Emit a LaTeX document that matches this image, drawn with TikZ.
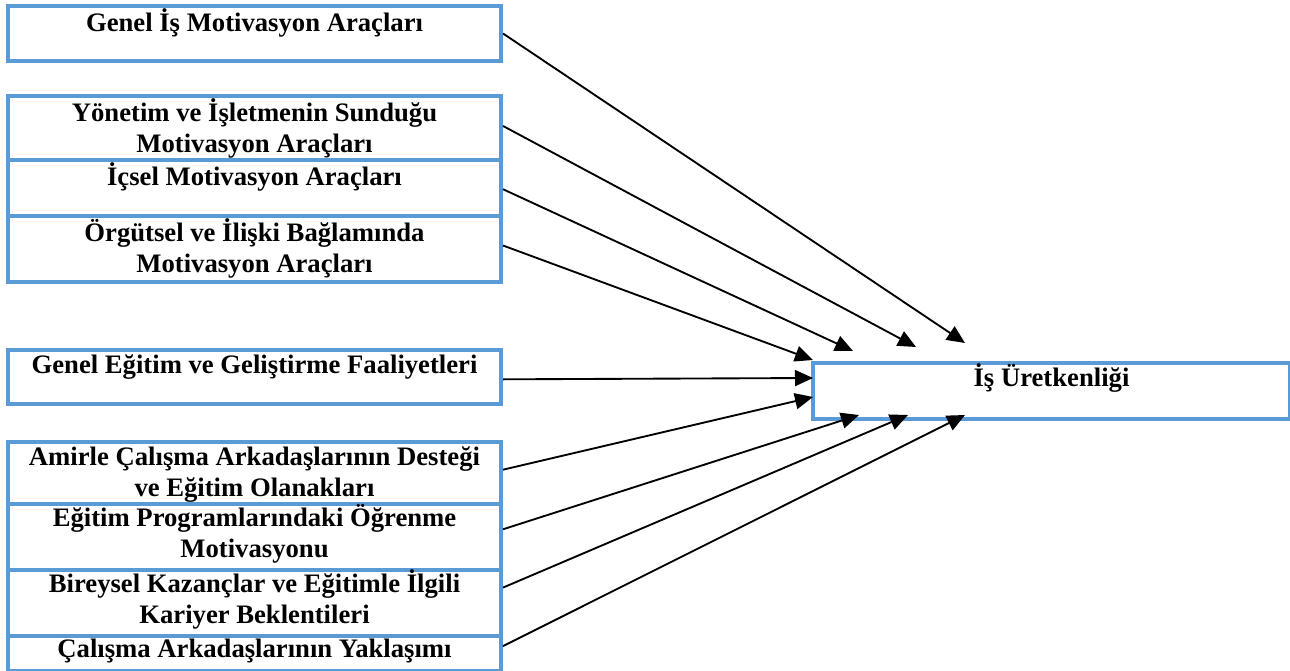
\documentclass[tikz,border=0pt]{standalone}
\usepackage{fontspec}
\setmainfont{Liberation Serif}
\usetikzlibrary{arrows.meta,calc}
\definecolor{boxblue}{HTML}{5B9BD5}
\newcommand{\tstrut}{\rule{0pt}{18pt}}
\begin{document}
\begin{tikzpicture}[x=0.75pt,y=-0.75pt,
  box/.style={draw=boxblue,line width=3pt,rectangle,inner sep=0pt,anchor=north west,minimum width=369.75pt},
  tbox/.style={draw=boxblue,line width=3pt,rectangle,inner sep=0pt,anchor=north west,minimum width=357.75pt,minimum height=42pt},
  lbl/.style={anchor=north,inner sep=0pt,align=center,font=\bfseries\fontsize{20}{23.25}\selectfont},
  arr/.style={line width=1.4pt,-{Triangle[length=13.5pt,width=12pt]}}]
\useasboundingbox (0,0) rectangle (1290,671);
% left boxes
\node[box,minimum height=41.25pt] (b1) at (6,4) {};
\node[box,minimum height=48pt] (b2) at (6,94) {};
\node[box,minimum height=42pt] (b3) at (6,158) {};
\node[box,minimum height=49.5pt] (b4) at (6,214) {};
\node[box,minimum height=40.5pt] (b5) at (6,348) {};
\node[box,minimum height=46.5pt] (b6) at (6,440) {};
\node[box,minimum height=49.5pt] (b7) at (6,502) {};
\node[box,minimum height=49.5pt] (b8) at (6,568) {};
\node[box,minimum height=26.25pt] (b9) at (6,634) {};
\node[tbox] (tgt) at (811,361) {};
% labels
\node[lbl] (l1) at ($(b1.north)+(0,3)$) {\tstrut Genel İş Motivasyon Araçları};
\node[lbl] (l2) at ($(b2.north)+(0,3)$) {\tstrut Yönetim ve İşletmenin Sunduğu\\Motivasyon Araçları};
\node[lbl] (l3) at ($(b3.north)+(0,3)$) {\tstrut İçsel Motivasyon Araçları};
\node[lbl] (l4) at ($(b4.north)+(0,3)$) {\tstrut Örgütsel ve İlişki Bağlamında\\Motivasyon Araçları};
\node[lbl] (l5) at ($(b5.north)+(0,1)$) {\tstrut Genel Eğitim ve Geliştirme Faaliyetleri};
\node[lbl] (l6) at ($(b6.north)+(0,1)$) {\tstrut Amirle Çalışma Arkadaşlarının Desteği\\ve Eğitim Olanakları};
\node[lbl] (l7) at ($(b7.north)+(0,0)$) {\tstrut Eğitim Programlarındaki Öğrenme\\Motivasyonu};
\node[lbl] (l8) at ($(b8.north)+(0,0)$) {\tstrut Bireysel Kazançlar ve Eğitimle İlgili\\Kariyer Beklentileri};
\node[lbl] (l9) at ($(b9.north)+(0,-1)$) {\tstrut Çalışma Arkadaşlarının Yaklaşımı};
\node[lbl] (lt) at ($(tgt.north)+(0,1)$) {\tstrut İş Üretkenliği};
% arrow end points
\coordinate (t1) at (965,343);
\coordinate (t2) at (916,347);
\coordinate (t3) at (853,351);
\coordinate (t4) at (813,360);
\coordinate (t5) at (813,378);
\coordinate (t6) at (813,397);
\coordinate (t7) at (859,415);
\coordinate (t8) at (908,415);
\coordinate (t9) at (965,415);
% connectors
\draw[arr] ($(b1.north east)!0.5!(b1.south east)$) -- (t1);
\draw[arr] ($(b2.north east)!0.47!(b2.south east)$) -- (t2);
\draw[arr] ($(b3.north east)!0.52!(b3.south east)$) -- (t3);
\draw[arr] ($(b4.north east)!0.45!(b4.south east)$) -- (t4);
\draw[arr] ($(b5.north east)!0.54!(b5.south east)$) -- (t5);
\draw[arr] ($(b6.north east)!0.45!(b6.south east)$) -- (t6);
\draw[arr] ($(b7.north east)!0.39!(b7.south east)$) -- (t7);
\draw[arr] ($(b8.north east)!0.28!(b8.south east)$) -- (t8);
\draw[arr] ($(b9.north east)!0.31!(b9.south east)$) -- (t9);
\end{tikzpicture}
\end{document}
